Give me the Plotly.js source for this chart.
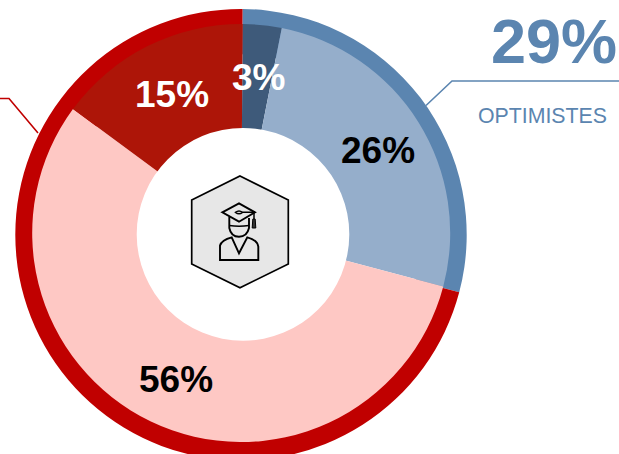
<!DOCTYPE html>
<html><head><meta charset="utf-8">
<script src="https://cdn.plot.ly/plotly-3.0.1.min.js"></script>
<style>html,body{margin:0;padding:0;background:#fff;overflow:hidden;width:619px;height:454px}</style>
</head><body><div id="chart" style="width:619px;height:480px"></div>
<script>
const innerCategories = ["Très optimistes","Plutôt optimistes","Plutôt pessimistes","Très pessimistes"];
const innerValues = [3,26,56,15];
const innerColors = ["#3E5A7A","#95AECB","#FEC8C4","#AD1508"];
const labelColors = ["#FFFFFF","#000000","#000000","#FFFFFF"];
const outerCategories = ["Optimistes","Pessimistes"];
const outerValues = [29,71];
const outerColors = ["#5B85B0","#C00000"];
const headline = "29%";
const headlineLabel = "OPTIMISTES";

const W=619,H=480;
const fx=x=>x/W, fy=y=>1-y/H;
const dom=(cx,cy,q)=>({x:[fx(cx-q),fx(cx+q)],y:[fy(cy+q),fy(cy-q)]});
const pth=(s)=>s.replace(/(-?[\d.]+),(-?[\d.]+)/g,(m,a,b)=>fx(+a).toFixed(5)+','+fy(+b).toFixed(5));
const blue="#5B85B0", red="#C00000";
const shape=(d,o)=>Object.assign({type:'path',xref:'paper',yref:'paper',layer:'above',path:pth(d),line:{color:'#000',width:1.9},fillcolor:'rgba(0,0,0,0)'},o||{});

let cum=0;
const total=innerValues.reduce((a,b)=>a+b,0);
const lx=244, ly=236, labelR=159;
const labels=innerValues.map((v,i)=>{
  const a=(cum+v/2)/total*2*Math.PI; cum+=v;
  return {xref:'paper',yref:'paper',xanchor:'center',yanchor:'middle',showarrow:false,
    x:fx(lx+labelR*Math.sin(a)),y:fy(ly-labelR*Math.cos(a)),text:v+'%',
    font:{family:'Liberation Sans',size:37,color:labelColors[i],weight:700}};
});

const data=[
 {type:'pie',labels:outerCategories,values:outerValues,sort:false,direction:'clockwise',rotation:0.4,
  hole:0.8,domain:dom(241,234.7,225.7),marker:{colors:outerColors,line:{width:0}},textinfo:'none',hoverinfo:'none'},
 {type:'pie',labels:innerCategories,values:innerValues,sort:false,direction:'clockwise',rotation:0.4,
  hole:0.4,domain:dom(241.2,233,209),marker:{colors:innerColors,line:{width:0}},textinfo:'none',hoverinfo:'none'}
];
const layout={width:W,height:H,margin:{l:0,r:0,t:0,b:0},paper_bgcolor:'#fff',showlegend:false,
 annotations:labels.concat([
  {xref:'paper',yref:'paper',xanchor:'right',yanchor:'middle',showarrow:false,x:fx(619),y:fy(41.5),text:headline,
   font:{family:'Liberation Sans',size:63,color:blue,weight:700}},
  {xref:'paper',yref:'paper',xanchor:'center',yanchor:'middle',showarrow:false,x:fx(542.5),y:fy(116),text:headlineLabel,
   font:{family:'Liberation Sans',size:21.3,color:blue}}
 ]),
 shapes:[
  {type:'circle',xref:'paper',yref:'paper',layer:'above',x0:fx(136.7),x1:fx(349.3),y0:fy(340.7),y1:fy(128),fillcolor:'#fff',line:{width:0}},
  shape('M426,105.5 L452,81 L619,81',{line:{color:blue,width:1.6}}),
  shape('M0,98.5 L9,98.5 L38,133',{line:{color:red,width:1.6}}),
  shape('M240,176 L288.3,200 L288.3,264 L240,287.7 L191.7,264 L191.7,200 Z',{fillcolor:'#E7E7E7',line:{color:'#000',width:1.7}}),
  shape('M222.3,212.3 L239,203.3 L255,212.3 L239,221.7 Z'),
  shape('M235.5,212.3 Q239,209.5 242.5,212.3 Q239,215 235.5,212.3 Z M242.5,212.3 L254,212.3 L254,219',{line:{color:'#000',width:1.5}}),
  shape('M252.8,219 L255.2,219 L255.8,228 L252.2,228 Z',{fillcolor:'#333',line:{color:'#000',width:1}}),
  shape('M229.3,216.7 L229.3,228 Q231,236.7 239,236.7 Q247,236.7 249,228 L249,218'),
  shape('M229.3,225.5 Q239,227 249,225.5',{line:{color:'#000',width:1.4}}),
  shape('M220,260 L220,245.5 Q221.5,240 231.7,237.3 L239,253.3 L247.3,237.3 Q257.5,240 258.3,246.7 L258.3,260 Z')
 ]};
Plotly.newPlot('chart',data,layout,{displayModeBar:false,staticPlot:true});
</script></body></html>
